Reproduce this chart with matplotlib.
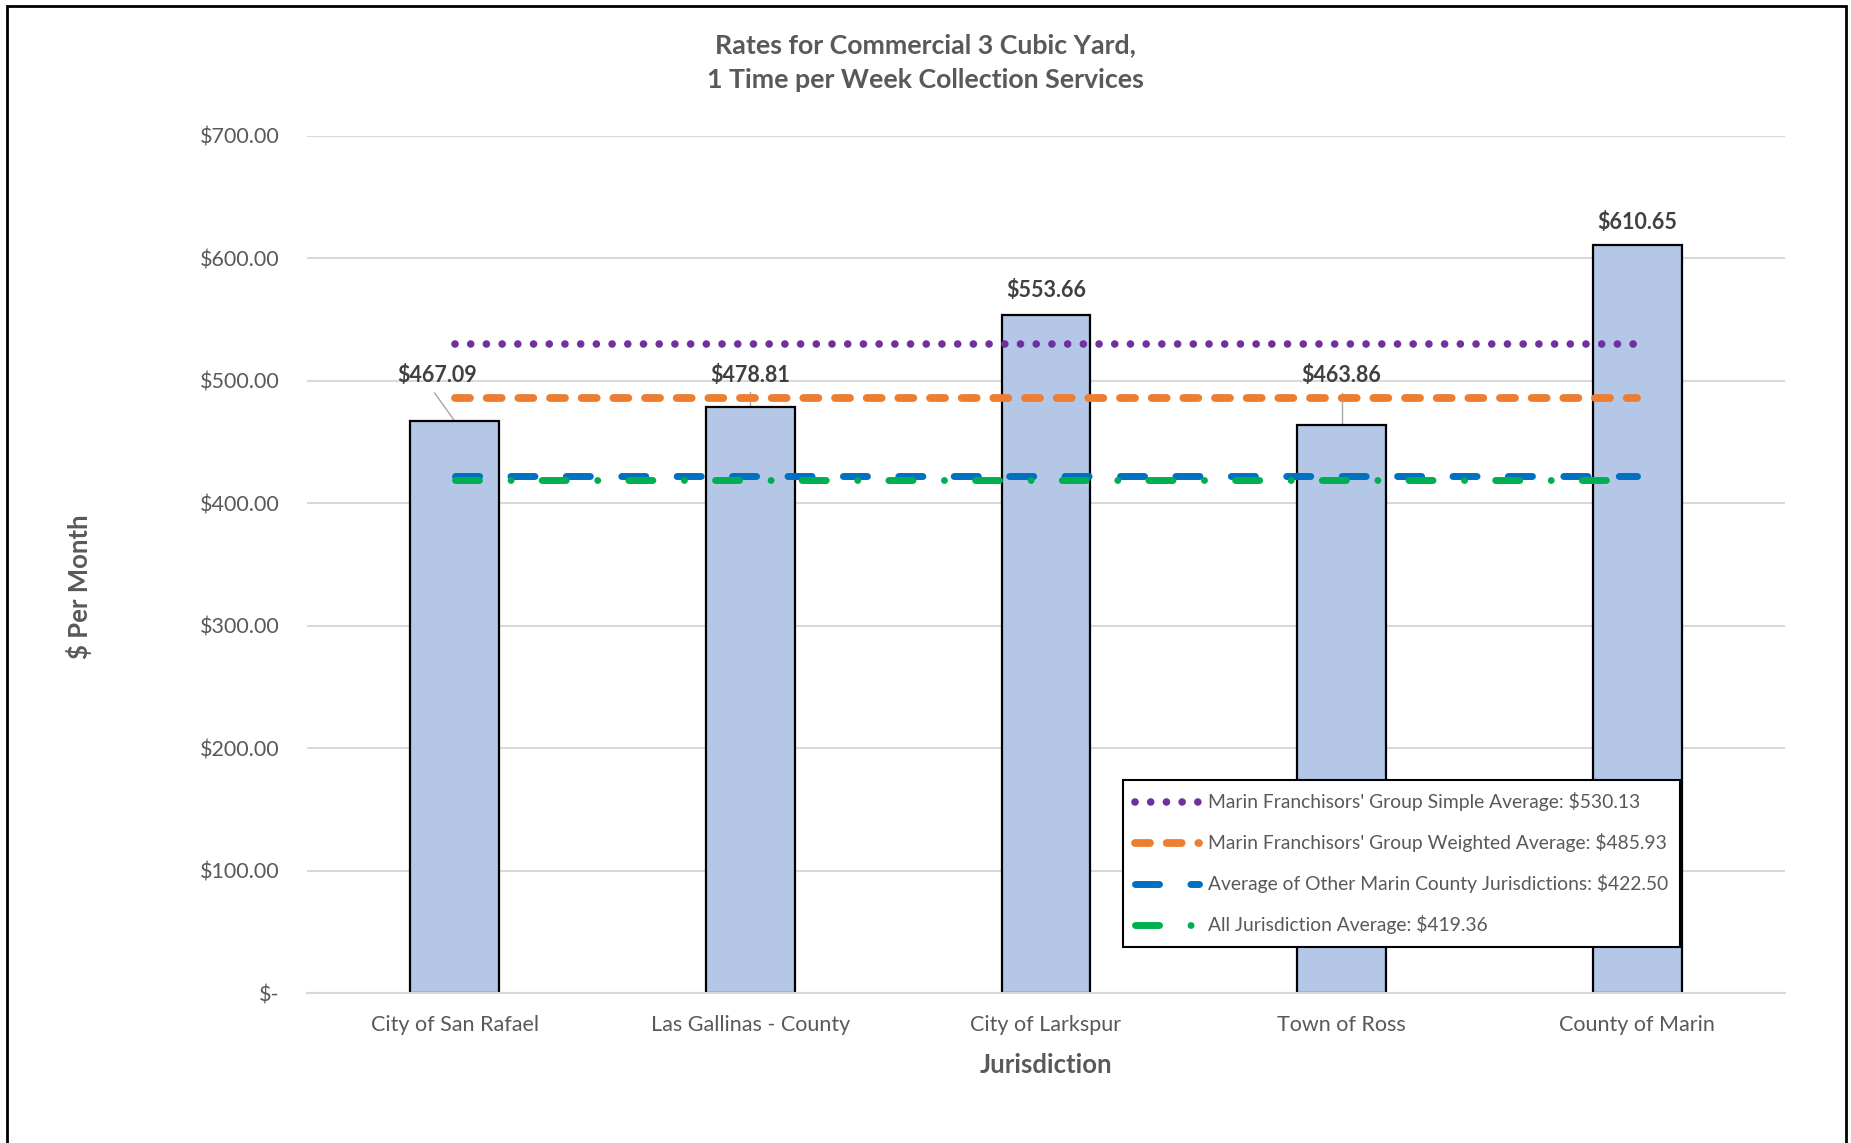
import matplotlib
matplotlib.use("Agg")
import matplotlib.pyplot as plt
from matplotlib.patches import Rectangle

plt.rcParams['font.family'] = ['Lato', 'DejaVu Sans']
plt.rcParams['lines.scale_dashes'] = False

# Monthly rates per jurisdiction
jurisdictions = ["City of San Rafael", "Las Gallinas - County", "City of Larkspur",
                 "Town of Ross", "County of Marin"]
rates = [467.09, 478.81, 553.66, 463.86, 610.65]

# Reference averages drawn across the bars
avg_names = ["Marin Franchisors' Group Simple Average",
             "Marin Franchisors' Group Weighted Average",
             "Average of Other Marin County Jurisdictions",
             "All Jurisdiction Average"]
avg_values = [530.13, 485.93, 422.50, 419.36]

yticks = [0, 100, 200, 300, 400, 500, 600, 700]

TEXT = '#595959'
LABEL = '#404040'

fig = plt.figure(figsize=(18.51, 11.43), dpi=100)
ax = fig.add_axes([307 / 1851, 1 - 993 / 1143, 1478 / 1851, 857 / 1143])

x = list(range(len(jurisdictions)))
ax.bar(x, rates, width=0.3, color='#b4c7e7', edgecolor='black', linewidth=1.6, zorder=2)

# line styles for the four averages: (color, dash pattern in points)
styles = [
    ('#7030a0', (0, (0.01, 11.3))),
    ('#ed7d31', (0, (10.8, 12.0))),
    ('#0070c0', (0, (17.3, 22.6))),
    ('#00b050', (0, (17.3, 22.7, 0.01, 22.4))),
]
widths = [5.5, 5.6, 5.0, 5.0]
handles = []
for (col, ls), lw, name, val in zip(styles, widths, avg_names, avg_values):
    ln, = ax.plot([x[0], x[-1]], [val, val], color=col, linestyle=ls, linewidth=lw,
                  dash_capstyle='round', solid_capstyle='round', zorder=3,
                  label=f"{name}: ${val:.2f}")
    handles.append(ln)

# data labels; some are lifted above the average lines with a leader line
label_pos = [(-0.06, 496), (1.0, 496), (2.0, 565), (3.0, 496), (4.0, 621)]
leader_from = [(-0.068, 490), (1.0, 491), None, (3.0, 490), None]
for xi, r, (lx, ly), lead in zip(x, rates, label_pos, leader_from):
    ax.text(lx, ly, f"${r:.2f}", ha='center', va='bottom', fontsize=15.5,
            fontweight='bold', color=LABEL, zorder=5)
    if lead is not None:
        ax.plot([lead[0], xi], [lead[1], r], color='#a6a6a6', linewidth=1.0, zorder=1)

ax.set_xlim(-0.5, 4.5)
ax.set_ylim(0, 700)
ax.set_yticks(yticks)
ax.set_yticklabels([f"${v:,.2f}" if v else "$-" for v in yticks])
ax.set_xticks(x)
ax.set_xticklabels(jurisdictions)
ax.tick_params(axis='both', length=0, labelsize=15.5, labelcolor=TEXT)
ax.tick_params(axis='y', pad=19.5)
ax.tick_params(axis='x', pad=16)
ax.grid(axis='y', color='#d9d9d9', linewidth=1.5, zorder=0)
ax.set_axisbelow(True)
for side in ['top', 'right', 'left']:
    ax.spines[side].set_visible(False)
ax.spines['bottom'].set_color('#d9d9d9')
ax.spines['bottom'].set_linewidth(1.5)

fig.text(0.5, 1 - 45 / 1143, "Rates for Commercial 3 Cubic Yard,", ha='center', va='center',
         fontsize=19.3, fontweight='bold', color=TEXT)
fig.text(0.5, 1 - 80 / 1143, "1 Time per Week Collection Services", ha='center', va='center',
         fontsize=19.3, fontweight='bold', color=TEXT)
fig.text(1046 / 1851, 1 - 1065 / 1143, "Jurisdiction", ha='center', va='center',
         fontsize=18.5, fontweight='bold', color=TEXT)
fig.text(79 / 1851, 1 - 587 / 1143, "$ Per Month", ha='center', va='center', rotation=90,
         fontsize=18.5, fontweight='bold', color=TEXT)

leg = fig.legend(handles=handles, loc='upper left',
                 bbox_to_anchor=(1123 / 1851, 1 - 780 / 1143), bbox_transform=fig.transFigure,
                 fontsize=13.9, frameon=True, fancybox=False, framealpha=1,
                 handlelength=3.3, handletextpad=0.45, labelspacing=1.14,
                 borderpad=0.64, borderaxespad=0)
leg.get_frame().set_edgecolor('black')
leg.get_frame().set_linewidth(1.5)
for t in leg.get_texts():
    t.set_color(TEXT)

# outer chart border (open at the bottom)
fig.add_artist(Rectangle((7 / 1851, -0.05), 1839 / 1851, 1.05 - 6 / 1143, fill=False,
                         edgecolor='black', linewidth=2, transform=fig.transFigure))

fig.savefig("out.png", dpi=100)
